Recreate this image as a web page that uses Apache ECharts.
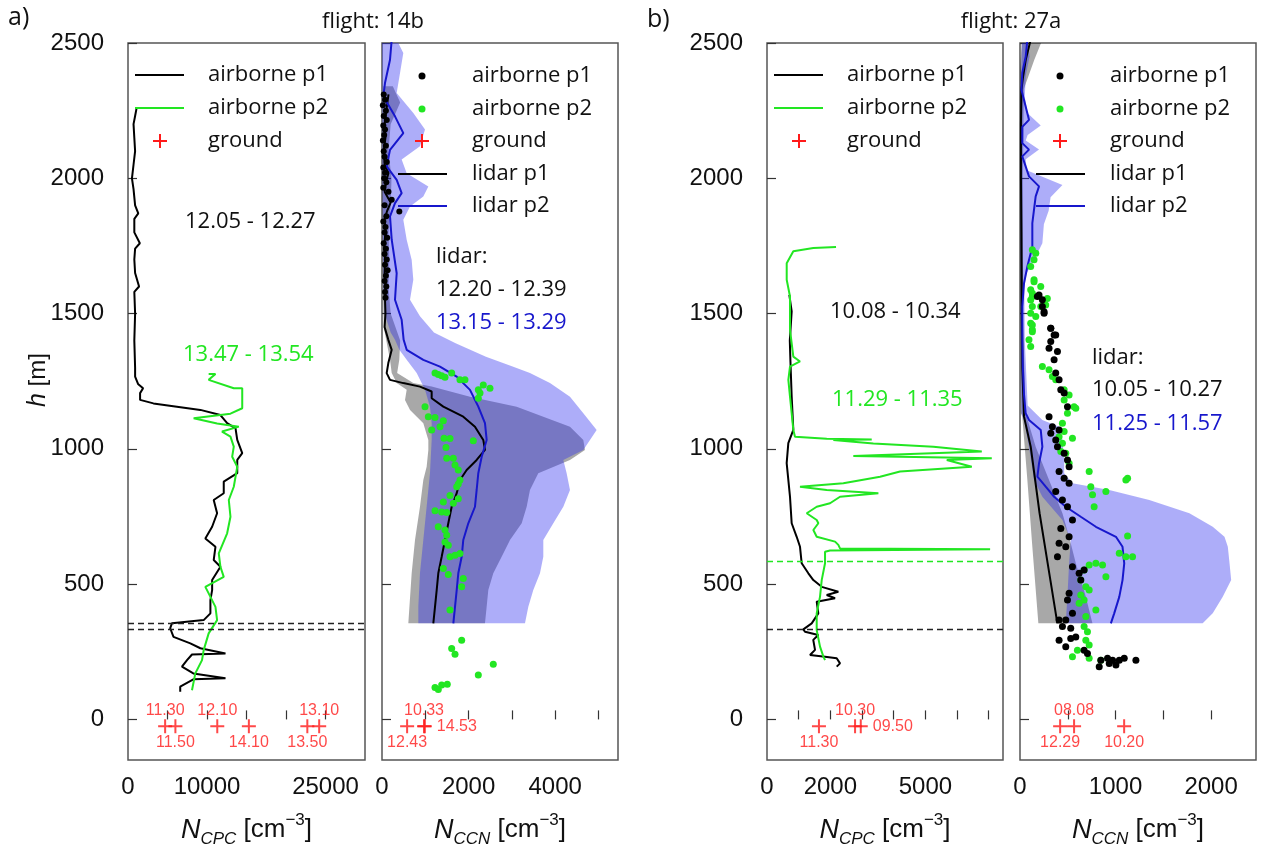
<!DOCTYPE html>
<html><head><meta charset="utf-8">
<script src="https://cdn.jsdelivr.net/npm/echarts@6/dist/echarts.min.js"></script>
<style>html,body{margin:0;padding:0;background:#fff}#c{width:1263px;height:847px}</style>
</head><body><div id="c"></div>
<script>
// ---------- data (value, height m) ----------
const yTickValues = [0, 500, 1000, 1500, 2000, 2500];
const xTicks14bCPC = [5000, 10000, 15000, 20000, 25000];
const xLabels14bCPC = [0, 10000, 25000];
const xTicks14bCCN = [1000, 2000, 3000, 4000, 5000];
const xLabels14bCCN = [0, 2000, 4000];
const xTicks27aCPC = [1000, 2000, 3000, 4000, 5000, 6000, 7000];
const xLabels27aCPC = [0, 2000, 5000];
const xTicks27aCCN = [500, 1000, 1500, 2000];
const xLabels27aCCN = [0, 1000, 2000];

const groundH = -25;

// flight 14b, CPC
const cpc14b_p1 = [[1100,2261],[900,2230],[700,2200],[800,2150],[900,2100],[700,2050],[500,2000],[700,1960],[900,1900],[1300,1870],[800,1850],[800,1800],[1500,1760],[900,1740],[800,1700],[900,1650],[1400,1600],[800,1580],[900,1500],[800,1400],[900,1300],[900,1267],[1270,1240],[1910,1224],[1530,1206],[1530,1181],[3220,1168],[6190,1156],[9160,1144],[11700,1125],[12550,1095],[13610,1076],[13830,1033],[14460,984],[13830,959],[13830,910],[12120,879],[12120,836],[10850,811],[11280,762],[10650,712],[9790,669],[11070,638],[10850,589],[11700,564],[10650,515],[10650,478],[10430,441],[10430,392],[9580,367],[5560,355],[5340,337],[5760,305],[7890,281],[9160,263],[12340,244],[8100,240],[7470,219],[6830,195],[8270,170],[12340,152],[8270,148],[6610,121],[6610,102]];
const cpc14b_p2 = [[10210,1277],[11070,1277],[11280,1270],[10210,1255],[13390,1224],[14460,1224],[14460,1150],[12970,1130],[8310,1113],[11280,1094],[14030,1082],[11900,1064],[12970,1045],[13390,1008],[13190,971],[13830,934],[13390,860],[12760,811],[12970,749],[12550,688],[11490,614],[11700,564],[12120,527],[9790,490],[10210,466],[11070,416],[11280,367],[10210,318],[9580,256],[9370,219],[8520,170],[8100,108]];
const dash14b = [355, 333];
const ground14bCPC = [[4700,'11.30','top'],[6000,'11.50','bottom'],[11300,'12.10','top'],[15300,'14.10','bottom'],[22700,'13.50','bottom'],[24200,'13.10','top']];

// flight 14b, CCN
const lidar14b_p1 = [[150,2310],[100,2250],[60,2200],[80,2150],[40,2100],[60,2050],[150,2020],[100,1990],[60,1950],[200,1910],[120,1880],[60,1850],[80,1800],[50,1750],[70,1700],[60,1650],[90,1600],[70,1550],[80,1500],[60,1450],[146,1403],[224,1366],[146,1317],[108,1280],[185,1255],[492,1243],[877,1230],[1147,1212],[1147,1187],[1416,1156],[1877,1119],[2147,1082],[2339,1033],[2378,996],[2186,959],[1955,922],[1801,885],[1725,836],[1609,786],[1531,725],[1455,663],[1378,601],[1300,540],[1263,478],[1224,416],[1185,355]];
const lidar14b_p2 = [[224,2512],[185,2438],[69,2352],[30,2303],[300,2229],[492,2167],[185,2105],[108,2044],[339,1994],[454,1945],[300,1908],[185,1859],[224,1773],[339,1649],[300,1551],[454,1477],[500,1403],[570,1366],[954,1329],[1339,1304],[1725,1267],[2032,1218],[2224,1156],[2378,1095],[2417,1033],[2302,971],[2224,910],[2186,848],[2147,786],[1993,725],[1877,663],[1840,601],[1762,540],[1725,478],[1686,416],[1647,355]];
const band14b_p1_left = [[30,2340],[20,2200],[10,2000],[10,1800],[20,1600],[40,1450],[185,1329],[224,1280],[339,1243],[570,1218],[531,1181],[647,1144],[954,1095],[1070,1033],[1070,996],[1031,934],[954,885],[877,786],[762,663],[685,540],[608,355]];
const band14b_p1_right = [[250,2340],[420,2280],[200,2200],[150,2100],[220,2000],[200,1900],[150,1800],[170,1700],[150,1600],[200,1500],[420,1400],[400,1330],[350,1280],[723,1243],[1147,1230],[2032,1193],[3110,1156],[3725,1119],[4341,1082],[4649,1033],[4687,996],[4341,959],[3609,910],[3417,848],[3341,786],[3226,725],[2956,663],[2763,601],[2570,540],[2455,478],[2417,416],[2378,355]];
const band14b_p2_left = [[0,2512],[10,2300],[10,2000],[20,1800],[30,1600],[60,1500],[200,1430],[300,1403],[400,1366],[570,1329],[801,1280],[993,1218],[1108,1156],[1147,1095],[1147,1033],[1108,910],[1031,786],[954,663],[877,540],[839,416],[839,355]];
const band14b_p2_right = [[339,2512],[492,2463],[416,2389],[339,2315],[723,2241],[993,2180],[877,2118],[454,2069],[570,2019],[1070,1970],[954,1933],[647,1896],[492,1847],[570,1773],[685,1699],[723,1625],[647,1551],[877,1490],[1200,1430],[1700,1390],[2400,1340],[3000,1305],[3417,1280],[3879,1243],[4341,1193],[4649,1132],[4957,1070],[4803,1033],[4649,996],[4187,959],[4264,910],[4341,848],[4187,786],[3956,725],[3725,663],[3725,601],[3648,540],[3494,478],[3379,416],[3302,355]];
const ccn14b_p1 = [[40,2310],[70,2290],[20,2270],[90,2250],[40,2230],[110,2215],[30,2195],[70,2180],[50,2160],[20,2140],[90,2120],[40,2100],[60,2080],[110,2060],[30,2040],[70,2020],[50,2000],[100,1985],[30,1965],[150,1950],[224,1921],[400,1877],[60,1900],[100,1860],[30,1840],[80,1820],[60,1800],[120,1780],[40,1760],[90,1740],[60,1720],[110,1700],[70,1680],[130,1660],[90,1640],[60,1620],[100,1600],[70,1580],[80,1558]];
const ccn14b_p2 = [[1224,1280],[1300,1275],[1378,1270],[1455,1265],[1609,1280],[1801,1255],[1916,1255],[2339,1236],[2493,1224],[2224,1218],[2263,1206],[2224,1187],[993,1156],[1070,1119],[1224,1116],[1416,1104],[1147,1070],[1339,1082],[1432,1039],[1570,1038],[2108,1030],[1478,1005],[1494,965],[1647,965],[1686,940],[1762,922],[1801,885],[1762,870],[1725,860],[1570,828],[1762,816],[1647,799],[1416,804],[1224,771],[1378,767],[1494,765],[1300,712],[1455,700],[1494,681],[1455,656],[1531,644],[1570,601],[1686,607],[1801,613],[1416,558],[1531,536],[1877,521],[1840,490],[1570,404],[1840,293],[1609,262],[1686,241],[2570,204],[2224,164],[1224,118],[1300,111],[1378,127],[1508,130]];
const ground14bCCN = [[580,'12.43','bottom'],[970,'10.33','top'],[990,'14.53','right']];

// flight 27a, CPC
const cpc27a_p1 = [[705,1569],[779,1508],[720,1400],[740,1323],[779,1193],[831,1070],[673,1021],[621,947],[726,823],[779,725],[937,675],[1042,638],[1095,577],[1305,540],[1462,515],[1727,490],[2252,472],[1885,460],[2148,448],[1569,435],[1620,392],[1411,355],[1147,333],[1200,324],[1620,312],[1460,294],[1516,257],[1358,238],[1832,232],[2200,226],[2305,207],[2200,195]];
const cpc27a_p2 = [[2179,1746],[1462,1742],[831,1730],[622,1686],[622,1625],[726,1563],[726,1440],[831,1341],[1042,1323],[726,1304],[674,1255],[726,1193],[779,1132],[831,1070],[884,1045],[1885,1037],[3306,1035],[2094,1033],[3357,1020],[5252,1008],[6780,990],[2725,974],[7096,965],[5675,959],[6464,934],[4200,916],[3569,897],[2410,873],[1042,860],[1885,848],[3516,836],[2305,823],[1990,799],[1569,786],[1254,762],[1569,737],[1621,725],[1463,700],[1569,675],[2148,657],[2252,645],[2305,632],[7043,629],[1990,624],[1832,620],[1832,577],[1727,515],[1674,454],[1569,392],[1569,330],[1674,269],[1780,232],[1832,219]];
const dash27a_p1 = [333];
const dash27a_p2 = [585];
const ground27aCPC = [[1640,'11.30','bottom'],[2780,'10.30','top'],[2960,'09.50','right']];

// flight 27a, CCN
const lidar27a_p1 = [[112,2512],[60,2438],[30,2370],[15,2327],[10,2200],[10,2000],[15,1800],[20,1500],[24,1300],[42,1119],[112,1008],[205,762],[318,515],[391,355]];
const lidar27a_p2 = [[77,2512],[60,2450],[24,2390],[15,2327],[94,2216],[24,2190],[24,2130],[94,2106],[24,2081],[94,2007],[199,1970],[164,1933],[129,1834],[129,1747],[77,1674],[42,1612],[24,1526],[24,1403],[30,1300],[42,1200],[59,1132],[94,1107],[217,1070],[234,1008],[199,946],[182,897],[269,860],[357,823],[479,786],[636,749],[794,712],[1004,675],[1073,638],[1091,577],[1073,515],[1039,453],[986,392],[951,355]];
const band27a_p1_left = [[20,2512],[0,2400],[0,2000],[0,1500],[10,1132],[24,1119],[77,885],[129,638],[192,355]];
const band27a_p1_right = [[234,2512],[150,2438],[40,2330],[30,2000],[30,1500],[59,1132],[164,1008],[304,885],[444,762],[514,675],[584,577],[689,453],[758,355]];
const band27a_p2_left = [[20,2512],[10,2300],[5,2000],[5,1700],[10,1400],[15,1132],[42,1107],[94,1008],[147,885],[234,823],[444,737],[531,663],[514,577],[496,453],[479,355]];
const band27a_p2_right = [[80,2512],[100,2450],[60,2380],[50,2300],[80,2240],[217,2195],[80,2160],[60,2140],[199,2106],[60,2070],[70,2030],[444,1975],[320,1930],[300,1880],[250,1830],[234,1760],[150,1700],[70,1650],[45,1600],[50,1400],[80,1160],[234,1107],[409,1082],[444,1033],[462,959],[462,910],[549,873],[934,848],[1353,811],[1773,762],[2017,712],[2140,675],[2175,638],[2193,577],[2210,515],[2122,453],[2017,392],[1912,355]];
const ccn27a_p1 = [[182,1563],[234,1526],[252,1507],[322,1446],[374,1421],[199,1569],[234,1551],[252,1501],[322,1446],[357,1421],[322,1397],[304,1372],[392,1360],[357,1329],[374,1280],[409,1255],[427,1218],[462,1206],[497,1156],[304,1119],[339,1082],[409,1070],[322,1058],[374,1033],[392,1008],[462,984],[497,959],[514,934],[409,916],[462,891],[514,873],[374,842],[444,811],[497,786],[549,737],[427,706],[514,675],[409,651],[479,638],[392,601],[549,564],[619,540],[671,552],[636,515],[514,466],[497,441],[549,392],[479,367],[409,367],[444,343],[531,337],[409,293],[531,299],[584,305],[479,269],[671,256],[706,244],[846,219],[916,226],[969,219],[1039,219],[1091,226],[1213,219],[829,195],[934,207],[1004,201]];
const ccn27a_p2 = [[129,1736],[165,1723],[147,1699],[112,1674],[147,1625],[217,1600],[129,1575],[286,1556],[112,1550],[129,1526],[165,1489],[112,1464],[129,1440],[147,1618],[112,1588],[129,1563],[217,1526],[269,1532],[112,1501],[129,1458],[129,1433],[94,1403],[112,1378],[234,1304],[304,1292],[339,1267],[374,1255],[462,1218],[514,1199],[462,1181],[566,1156],[584,1150],[497,1132],[444,1095],[462,1064],[409,1045],[444,1021],[549,1039],[427,990],[479,984],[514,947],[724,916],[741,860],[899,842],[759,830],[1126,891],[1108,885],[776,786],[1126,678],[1039,614],[1178,601],[1108,601],[724,571],[794,577],[864,571],[671,552],[899,527],[636,515],[689,490],[724,478],[636,460],[671,441],[619,429],[794,404],[689,380],[671,343],[706,324],[689,293],[724,275],[601,256],[549,232],[724,226],[846,219]];
const ground27aCCN = [[420,'12.29','bottom'],[566,'08.08','top'],[1090,'10.20','bottom']];

// ---------- styles ----------
const GREEN = '#22e622', BLUE = '#1717cc', RED = '#ff1a1a', BLACK = '#000';
const TXT = '"Open Sans", "DejaVu Sans", sans-serif';
const NUM = '"Liberation Sans", Arial, sans-serif';
const plusPath = 'path://M6,0H8V6H14V8H8V14H6V8H0V6H6Z';
const plainNum = function(v){ return String(v); };

function lineS(gi, data, color, w, z) {
  return {type:'line', xAxisIndex:gi, yAxisIndex:gi, data:data, symbol:'none', showSymbol:false,
    lineStyle:{color:color, width:w}, itemStyle:{color:color}, z:z||3, silent:true, clip:true};
}
function dotS(gi, data, color, size, z) {
  return {type:'scatter', xAxisIndex:gi, yAxisIndex:gi, data:data, symbol:'circle', symbolSize:size,
    itemStyle:{color:color, opacity:1}, z:z||4, silent:true, clip:true};
}
function bandS(gi, left, right, color, z) {
  const poly = left.concat(right.slice().reverse());
  return {type:'custom', xAxisIndex:gi, yAxisIndex:gi, data:poly, clip:true, silent:true, z:z||1,
    renderItem:function(params, api){
      if (params.dataIndex !== 0) return null;
      const pts = poly.map(function(p){ return api.coord(p); });
      return {type:'polygon', shape:{points:pts}, style:{fill:color}};
    }};
}
function groundS(gi, arr) {
  return {type:'scatter', xAxisIndex:gi, yAxisIndex:gi, symbol:plusPath, symbolSize:14, z:6, silent:true,
    itemStyle:{color:RED},
    label:{show:true, formatter:function(p){return p.name;}, color:RED, fontSize:16, fontFamily:NUM},
    data:arr.map(function(g){ return {name:g[1], value:[g[0], groundH],
      label:{position:g[2], distance:(g[2]==='right'?5:1)}}; })};
}
function dashS(gi, vals, color) {
  return {type:'line', xAxisIndex:gi, yAxisIndex:gi, data:[], silent:true,
    markLine:{silent:true, symbol:'none', animation:false, label:{show:false},
      lineStyle:{type:[6,4], color:color, width:1.3},
      data:vals.map(function(v){ return {yAxis:v}; })}};
}
const tickStyle = {color:'#333', width:1.2};
function yAx(gi, showLabels) {
  return {type:'value', gridIndex:gi, min:-150, max:2500,
    axisLine:{show:false}, splitLine:{show:false},
    axisTick:{show:true, inside:true, length:9, customValues:yTickValues, lineStyle:tickStyle},
    axisLabel:{show:showLabels, customValues:yTickValues, formatter:plainNum, margin:24, fontSize:24, color:'#111', fontFamily:NUM}};
}
const nameRich = {
  n:{fontSize:27, fontStyle:'italic', fontFamily:NUM, color:'#111', lineHeight:36},
  s:{fontSize:17, fontStyle:'italic', fontFamily:NUM, color:'#111', lineHeight:17, verticalAlign:'bottom'},
  t:{fontSize:26, fontFamily:NUM, color:'#111', lineHeight:36},
  p:{fontSize:17, fontFamily:NUM, color:'#111', lineHeight:17, verticalAlign:'top'}
};
function xAx(gi, max, ticks, labels, sub) {
  return {type:'value', gridIndex:gi, min:0, max:max,
    axisLine:{show:false}, splitLine:{show:false},
    axisTick:{show:true, inside:true, length:9, customValues:ticks, lineStyle:tickStyle},
    axisLabel:{customValues:labels, formatter:plainNum, margin:15, fontSize:24, color:'#111', fontFamily:NUM, showMinLabel:true, showMaxLabel:true},
    name:'{n|N}{s|' + sub + '}{t| [cm}{p|\u22123}{t|]}', nameLocation:'middle', nameGap:52,
    nameTextStyle:{rich:nameRich}};
}

// ---------- graphic (legends, annotations, titles) ----------
function txt(x, y, s, color, size, align, font) {
  return {type:'text', x:x, y:y, z:100, silent:true,
    style:{text:s, fill:color||'#111', font:(size||22)+'px '+(font||TXT), align:align||'left', verticalAlign:'middle'}};
}
function lg(x1, x2, y, color, w) {
  return {type:'line', z:100, silent:true, shape:{x1:x1, y1:y, x2:x2, y2:y}, style:{stroke:color, lineWidth:w||2}};
}
function dot(cx, cy, color) {
  return {type:'circle', z:100, silent:true, shape:{cx:cx, cy:cy, r:3.5}, style:{fill:color}};
}
function plus(cx, cy) {
  return [{type:'rect', z:100, silent:true, shape:{x:cx-7, y:cy-1, width:14, height:2}, style:{fill:RED}},
          {type:'rect', z:100, silent:true, shape:{x:cx-1, y:cy-7, width:2, height:14}, style:{fill:RED}}];
}
const els = [];
// titles
els.push(txt(8, 18, 'a)', '#111', 25, 'left'));
els.push(txt(647, 20, 'b)', '#111', 25, 'left'));
els.push(txt(373, 22, 'flight: 14b', '#111', 22, 'center'));
els.push(txt(1011, 22, 'flight: 27a', '#111', 22, 'center'));
// y-axis title
els.push({type:'text', x:38, y:380, rotation:Math.PI/2, z:100, silent:true,
  style:{text:'{i|h} [m]', fill:'#111', font:'24px '+NUM, align:'center', verticalAlign:'middle',
    rich:{i:{fontStyle:'italic', fontSize:25, fontFamily:NUM, fill:'#111'}}}});
// CPC legends (panel 1 and 3)
[[128],[767]].forEach(function(o){
  const L = o[0];
  els.push(lg(L+7, L+56, 75, BLACK));
  els.push(lg(L+7, L+56, 108, GREEN));
  plus(L+32, 141).forEach(function(e){ els.push(e); });
  els.push(txt(L+80, 75, 'airborne p1'));
  els.push(txt(L+80, 108, 'airborne p2'));
  els.push(txt(L+80, 141, 'ground'));
});
// CCN legends (panel 2 and 4)
[[382],[1020]].forEach(function(o){
  const L = o[0];
  els.push(dot(L+40, 76, BLACK));
  els.push(dot(L+40, 109, GREEN));
  plus(L+40, 141).forEach(function(e){ els.push(e); });
  els.push(lg(L+16, L+65, 174, BLACK));
  els.push(lg(L+16, L+65, 206, BLUE));
  els.push(txt(L+90, 76, 'airborne p1'));
  els.push(txt(L+90, 109, 'airborne p2'));
  els.push(txt(L+90, 141, 'ground'));
  els.push(txt(L+90, 174, 'lidar p1'));
  els.push(txt(L+90, 206, 'lidar p2'));
});
// annotations
els.push(txt(185, 222, '12.05 - 12.27', '#111'));
els.push(txt(183, 355, '13.47 - 13.54', GREEN));
els.push(txt(436, 257, 'lidar:', '#111'));
els.push(txt(436, 290, '12.20 - 12.39', '#111'));
els.push(txt(436, 323, '13.15 - 13.29', BLUE));
els.push(txt(830, 312, '10.08 - 10.34', '#111'));
els.push(txt(832, 400, '11.29 - 11.35', GREEN));
els.push(txt(1092, 358, 'lidar:', '#111'));
els.push(txt(1092, 390, '10.05 - 10.27', '#111'));
els.push(txt(1092, 424, '11.25 - 11.57', BLUE));

const gridBase = {show:true, borderColor:'#555', borderWidth:1.5, backgroundColor:'transparent', containLabel:false, outerBoundsMode:'none'};
const option = {
  animation:false,
  backgroundColor:'#fff',
  grid:[
    Object.assign({left:128, top:43, width:237, height:717}, gridBase),
    Object.assign({left:382, top:43, width:236, height:717}, gridBase),
    Object.assign({left:767, top:43, width:236, height:717}, gridBase),
    Object.assign({left:1020, top:43, width:236, height:717}, gridBase)
  ],
  xAxis:[
    xAx(0, 30000, xTicks14bCPC, xLabels14bCPC, 'CPC'),
    xAx(1, 5450, xTicks14bCCN, xLabels14bCCN, 'CCN'),
    xAx(2, 7450, xTicks27aCPC, xLabels27aCPC, 'CPC'),
    xAx(3, 2470, xTicks27aCCN, xLabels27aCCN, 'CCN')
  ],
  yAxis:[yAx(0,true), yAx(1,false), yAx(2,true), yAx(3,false)],
  graphic:{elements:els},
  series:[
    // panel 1
    dashS(0, dash14b, '#222'),
    lineS(0, cpc14b_p1, BLACK, 2),
    lineS(0, cpc14b_p2, GREEN, 2),
    groundS(0, ground14bCPC),
    // panel 2
    bandS(1, band14b_p1_left, band14b_p1_right, 'rgba(0,0,0,0.34)', 1),
    bandS(1, band14b_p2_left, band14b_p2_right, 'rgba(40,40,240,0.38)', 2),
    lineS(1, lidar14b_p1, BLACK, 2),
    lineS(1, lidar14b_p2, BLUE, 2),
    dotS(1, ccn14b_p1, BLACK, 6),
    dotS(1, ccn14b_p2, GREEN, 7),
    groundS(1, ground14bCCN),
    // panel 3
    dashS(2, dash27a_p1, '#222'),
    dashS(2, dash27a_p2, GREEN),
    lineS(2, cpc27a_p1, BLACK, 2),
    lineS(2, cpc27a_p2, GREEN, 2),
    groundS(2, ground27aCPC),
    // panel 4
    bandS(3, band27a_p1_left, band27a_p1_right, 'rgba(0,0,0,0.34)', 1),
    bandS(3, band27a_p2_left, band27a_p2_right, 'rgba(40,40,240,0.38)', 2),
    lineS(3, lidar27a_p1, BLACK, 2),
    lineS(3, lidar27a_p2, BLUE, 2),
    dotS(3, ccn27a_p2, GREEN, 7),
    dotS(3, ccn27a_p1, BLACK, 7),
    groundS(3, ground27aCCN)
  ]
};
const chart = echarts.init(document.getElementById('c'));
chart.setOption(option);
</script>
</body></html>
